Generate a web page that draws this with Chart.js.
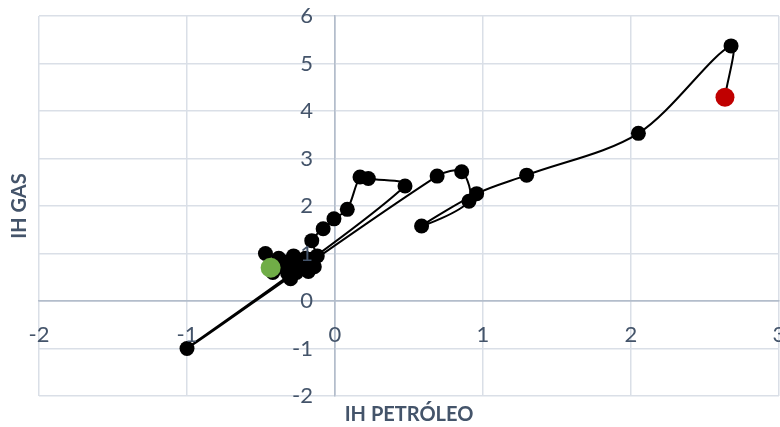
<!DOCTYPE html>
<html>
<head>
<meta charset="utf-8">
<script src="https://cdn.jsdelivr.net/npm/chart.js@4.4.1/dist/chart.umd.min.js"></script>
<style>
  html, body { margin: 0; padding: 0; background: #ffffff; }
  #wrap { position: relative; width: 780px; height: 427px; }
</style>
</head>
<body>
<div id="wrap"><canvas id="c" width="780" height="427"></canvas></div>
<script>
// Trajectory of the two indices, in chronological order (first point red, last point green)
const ihPetroleo = [2.635, 2.676, 2.05, 1.295, 0.957, 0.585, 0.905, 0.856, 0.69, -1.0,
  0.473, 0.225, 0.169, 0.083, -0.007, -0.08, -0.157, -0.12, -0.15, -0.2,
  -0.16, -0.25, -0.18, -0.14, -0.22, -0.3, -0.28, -0.34, -0.35, -0.26,
  -0.3, -0.32, -0.2, -0.38, -0.47, -0.42, -0.435];
const ihGas = [4.29, 5.37, 3.53, 2.65, 2.26, 1.58, 2.10, 2.72, 2.63, -1.0,
  2.42, 2.58, 2.61, 1.93, 1.73, 1.52, 1.27, 0.95, 0.78, 0.9,
  0.88, 0.7, 0.62, 0.72, 0.8, 0.85, 0.95, 0.82, 0.72, 0.6,
  0.47, 0.58, 0.68, 0.9, 1.0, 0.6, 0.70];

const xTicks = [-2, -1, 0, 1, 2, 3];
const yTicks = [-2, -1, 0, 1, 2, 3, 4, 5, 6];
const xTitle = 'IH PETRÓLEO';
const yTitle = 'IH GAS';

const points = ihPetroleo.map((x, i) => ({ x: x, y: ihGas[i] }));
const lastIdx = points.length - 1;

const TEXT = '#44546a';
const GRID = '#dadfe7';
const AXIS = '#b3bdcb';
const TICK_FONT = { family: 'Lato', size: 22 };

// Axis titles sit at the outer edges of the plot, not next to the crossing axes
const axisTitles = {
  id: 'axisTitles',
  afterDraw(chart) {
    const { ctx, chartArea } = chart;
    ctx.save();
    ctx.fillStyle = TEXT;
    ctx.font = 'bold 20px Lato';
    ctx.textAlign = 'center';
    ctx.textBaseline = 'middle';
    ctx.fillText(xTitle, (chartArea.left + chartArea.right) / 2, 415);
    ctx.translate(20, (chartArea.top + chartArea.bottom) / 2);
    ctx.rotate(-Math.PI / 2);
    ctx.fillText(yTitle, 0, 0);
    ctx.restore();
  }
};

const markerRadius = ctx => ctx.dataIndex === 0 ? 9.5 : (ctx.dataIndex === lastIdx ? 10 : 7.5);
const noPadding = s => { s.paddingLeft = 0; s.paddingRight = 0; s.paddingTop = 0; s.paddingBottom = 0; };
const gridColor = ctx => ctx.tick && ctx.tick.value === 0 ? AXIS : GRID;

new Chart(document.getElementById('c'), {
  type: 'scatter',
  data: {
    datasets: [{
      data: points,
      showLine: true,
      borderColor: '#000000',
      borderWidth: 2,
      tension: 0.32,
      pointBackgroundColor: ctx => ctx.dataIndex === 0 ? '#c00000' : (ctx.dataIndex === lastIdx ? '#70ad47' : '#000000'),
      pointBorderWidth: 0,
      pointRadius: markerRadius,
      pointHoverRadius: markerRadius
    }]
  },
  options: {
    responsive: false,
    animation: false,
    layout: { autoPadding: false, padding: { left: 39, right: 1, top: 16, bottom: 31 } },
    plugins: { legend: { display: false }, tooltip: { enabled: false } },
    scales: {
      x: {
        type: 'linear',
        position: { y: 0 },
        min: -2, max: 3,
        afterBuildTicks: s => { s.ticks = xTicks.map(v => ({ value: v })); },
        afterFit: noPadding,
        grid: { color: gridColor, lineWidth: 1.5, drawTicks: false },
        border: { color: AXIS, width: 1.5 },
        ticks: { color: TEXT, font: TICK_FONT, padding: 21, maxRotation: 0, autoSkip: false, z: 1 }
      },
      y: {
        type: 'linear',
        position: { x: 0 },
        min: -2, max: 6,
        afterBuildTicks: s => { s.ticks = yTicks.map(v => ({ value: v })); },
        afterFit: noPadding,
        grid: { color: gridColor, lineWidth: 1.5, drawTicks: false },
        border: { color: AXIS, width: 1.5 },
        ticks: {
          color: TEXT, font: TICK_FONT, autoSkip: false, z: 1,
          // labels of an axis crossing the plot are right-aligned on the axis line; keep a gap
          callback: v => v + '\u2003\u2005'
        }
      }
    }
  },
  plugins: [axisTitles]
});
</script>
</body>
</html>
